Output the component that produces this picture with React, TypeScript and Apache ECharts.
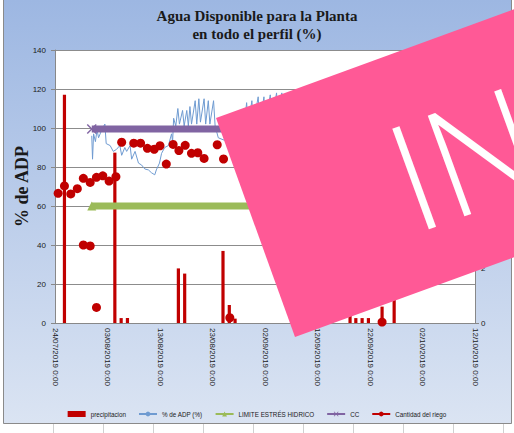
import React, { useEffect, useRef } from "react";
import * as echarts from "echarts";

const titleLines = ["Agua Disponible para la Planta", "en todo el perfil (%)"];
const yAxisName = "% de ADP";
const xTickLabels = [
  "24/07/2019 0:00",
  "03/08/2019 0:00",
  "13/08/2019 0:00",
  "23/08/2019 0:00",
  "02/09/2019 0:00",
  "12/09/2019 0:00",
  "22/09/2019 0:00",
  "02/10/2019 0:00",
  "12/10/2019 0:00",
];
const seriesNames = [
  "precipitacion",
  "% de ADP (%)",
  "LIMITE ESTRÉS HIDRICO",
  "CC",
  "Cantidad del riego",
];

// day offsets since 24/07/2019
const precipDays = [1.8, 11.4, 12.6, 13.8, 23.5, 24.7, 32.0, 33.2, 34.3, 56.2, 57.3, 58.5, 59.7, 62.3, 64.6];
const precipValues = [8.36, 6.24, 0.18, 0.18, 2.0, 1.81, 2.64, 0.66, 0.16, 0.29, 0.18, 0.18, 0.18, 0.6, 1.8];

const adpDays = [
  7.0, 7.15, 7.35, 7.7, 8.0, 8.3, 8.9, 9.5, 9.75, 10.5, 11.1, 11.7, 12.35, 12.7, 13.3, 13.65, 14.3, 14.6, 15.25,
  15.9, 16.5, 17.1, 17.8, 18.4, 19.0, 19.3, 19.9, 20.3, 20.9, 21.6, 22.2, 22.4,
  22.6, 23.0, 23.4, 23.7, 24.3, 24.6, 25.1, 25.4, 25.7, 26.0, 26.7, 27.0, 27.4, 27.7, 28.4, 28.7, 29.2, 29.5,
  30.2, 30.5, 31.1, 32.0, 33.0, 34.0, 35.0, 36.0, 36.5, 36.8, 37.5, 37.8, 38.7, 39.0, 39.8, 40.1, 41.0, 41.3,
  42.2, 42.5, 43.2, 43.5, 44.3, 44.6, 45.4, 45.7, 46.5, 46.8, 47.6, 48.0,
];
const adpValues = [
  96, 84, 97, 93, 99, 95, 99, 102, 92, 91, 88, 89, 91, 86, 90, 88, 91, 84, 88,
  82, 81, 79, 78.5, 77, 76, 78.5, 82, 87, 90, 91, 97, 93,
  105, 101, 110, 102, 109, 101, 109, 101, 111, 102, 114, 102, 115, 103, 115, 102, 114, 102,
  114, 101, 95, 94, 93, 95, 97, 100, 113, 101, 114, 102, 116, 102, 116, 102, 117, 103,
  118, 103, 118, 103, 117, 102, 117, 102, 116, 102, 116, 102,
];

const limiteDays = [7, 75];
const limiteValues = [60, 60];
const ccDays = [7, 75];
const ccValues = [99.5, 99.5];

const riegoDays = [
  0.6, 1.8, 3.0, 4.25, 5.4, 5.4, 6.7, 6.7, 7.9, 7.9, 9.1, 10.3, 11.6, 12.7, 15.0, 16.3, 17.6, 18.9, 20.0, 21.2,
  22.5, 23.6, 24.8, 26.0, 27.2, 28.4, 30.9, 32.1, 33.3, 62.3,
];
const riegoValues = [
  66.5, 70.3, 66.2, 68.9, 74.2, 40, 72.1, 39.5, 74.7, 8, 75.5, 72.8, 75, 92.7, 92.2, 92.2, 89.6, 89.1, 90.9, 81.5,
  91.6, 88.4, 91.1, 87, 87.3, 84.4, 91.4, 84.1, 2.7, 0.5,
];

const pair = (xs: number[], ys: number[]) => xs.map((x, i) => [x, ys[i]]);

const red = "#C00000";
const axisGray = "#888888";
const labelFont = "Liberation Sans";
const xSymbol = "path://M0,1L1,0L5,4L9,0L10,1L6,5L10,9L9,10L5,6L1,10L0,9L4,5Z";

export default function App() {
  const ref = useRef<HTMLDivElement>(null);
  useEffect(() => {
    const chart = echarts.init(ref.current!, undefined, { renderer: "svg" });
    const bottomLines = [];
    for (let k = 0; k < 10; k++) {
      bottomLines.push({
        type: "line",
        shape: { x1: 53.5 + 50 * k, y1: 424, x2: 53.5 + 50 * k, y2: 433 },
        style: { stroke: "#d0d0d0", lineWidth: 1 },
        z: 50,
      });
    }
    chart.setOption({
      animation: false,
      backgroundColor: {
        type: "linear",
        x: 0,
        y: 0,
        x2: 0,
        y2: 1,
        colorStops: [
          { offset: 0, color: "#9DB7E2" },
          { offset: 1, color: "#DCE5F3" },
        ],
      },
      title: {
        text: titleLines.join("\n"),
        left: "center",
        top: 2,
        textStyle: {
          fontFamily: "Liberation Serif",
          fontWeight: "bold",
          fontSize: 15,
          lineHeight: 18,
          color: "#1a1a1a",
        },
      },
      grid: { left: 55, right: 39, top: 50, bottom: 110, show: true, backgroundColor: "#ffffff", borderWidth: 0 },
      legend: {
        left: "center",
        top: 406,
        itemWidth: 18,
        itemHeight: 6,
        itemGap: 12,
        textStyle: { fontSize: 6.3, color: "#1a1a1a", fontFamily: labelFont },
        data: [
          { name: seriesNames[0], icon: "rect", itemStyle: { color: red } },
          { name: seriesNames[1] },
          { name: seriesNames[2] },
          { name: seriesNames[3] },
          { name: seriesNames[4], lineStyle: { opacity: 1, width: 2, color: red } },
        ],
      },
      xAxis: {
        type: "value",
        min: 0,
        max: 80,
        interval: 10,
        axisLine: { lineStyle: { color: axisGray } },
        axisTick: { show: false },
        splitLine: { show: false },
        axisLabel: {
          rotate: -90,
          fontSize: 8,
          color: "#1a1a1a",
          fontFamily: labelFont,
          margin: 5,
          formatter: (v: number) => xTickLabels[Math.round(v / 10)] ?? "",
        },
      },
      yAxis: [
        {
          type: "value",
          min: 0,
          max: 140,
          interval: 20,
          name: yAxisName,
          nameLocation: "middle",
          nameGap: 24,
          nameMoveOverlap: false,
          nameRotate: 90,
          nameTextStyle: { fontFamily: "Liberation Serif", fontWeight: "bold", fontSize: 18, color: "#1a1a1a" },
          axisLine: { show: true, lineStyle: { color: axisGray } },
          axisTick: { show: true, length: 4, lineStyle: { color: axisGray } },
          axisLabel: { fontSize: 8, color: "#1a1a1a", margin: 9, fontFamily: labelFont },
          splitLine: { lineStyle: { color: "#8c8c8c" } },
        },
        {
          type: "value",
          min: 0,
          max: 10,
          interval: 2,
          position: "right",
          axisLine: { show: true, lineStyle: { color: axisGray } },
          axisTick: { show: true, length: 4, lineStyle: { color: axisGray } },
          axisLabel: { fontSize: 8, color: "#1a1a1a", margin: 6, fontFamily: labelFont },
          splitLine: { show: false },
        },
      ],
      series: [
        {
          name: seriesNames[0],
          type: "custom",
          yAxisIndex: 1,
          itemStyle: { color: red },
          encode: { x: 0, y: 1 },
          renderItem: (params: any, api: any) => {
            const top = api.coord([api.value(0), api.value(1)]);
            const base = api.coord([api.value(0), 0]);
            return {
              type: "rect",
              shape: { x: top[0] - 1.6, y: top[1], width: 3.2, height: base[1] - top[1] },
              style: { fill: red },
            };
          },
          data: pair(precipDays, precipValues),
        },
        {
          name: seriesNames[1],
          type: "line",
          symbol: "none",
          lineStyle: { color: "#6F9BD1", width: 1 },
          itemStyle: { color: "#6F9BD1" },
          data: pair(adpDays, adpValues),
        },
        {
          name: seriesNames[2],
          type: "line",
          symbol: "triangle",
          symbolSize: 9,
          lineStyle: { color: "#9BBB59", width: 7 },
          itemStyle: { color: "#9BBB59" },
          data: pair(limiteDays, limiteValues),
        },
        {
          name: seriesNames[3],
          type: "line",
          symbol: xSymbol,
          symbolSize: 10,
          lineStyle: { color: "#8064A2", width: 7 },
          itemStyle: { color: "#8064A2" },
          data: pair(ccDays, ccValues),
        },
        {
          name: seriesNames[4],
          type: "line",
          symbol: "circle",
          symbolSize: 9,
          lineStyle: { color: red, width: 2, opacity: 0 },
          itemStyle: { color: red },
          data: pair(riegoDays, riegoValues),
        },
      ],
      graphic: [
        { type: "rect", shape: { x: 0, y: 424, width: 514, height: 9 }, style: { fill: "#ffffff" }, z: 49 },
        { type: "rect", shape: { x: 0, y: 0, width: 3, height: 433 }, style: { fill: "#ffffff" }, z: 49 },
        { type: "rect", shape: { x: 512, y: 0, width: 2, height: 433 }, style: { fill: "#ffffff" }, z: 49 },
        ...bottomLines,
        {
          type: "polyline",
          shape: { points: [[3.5, 0], [3.5, 423.5], [511.5, 423.5], [511.5, 0]] },
          style: { stroke: "#8a8a8a", lineWidth: 1, fill: null },
          z: 51,
        },
        {
          type: "polygon",
          shape: { points: [[216, 118], [600, -22], [680, 197], [295, 337]] },
          style: { fill: "#FF5996" },
          z: 100,
        },
        {
          type: "text",
          x: 395,
          y: 180,
          rotation: (20 * Math.PI) / 180,
          style: {
            text: "IN",
            fill: "#ffffff",
            fontSize: 150,
            fontFamily: "Open Sans",
            fontWeight: 300,
            align: "left",
            verticalAlign: "middle",
          },
          z: 101,
        },
      ],
    });
    return () => chart.dispose();
  }, []);
  return <div ref={ref} style={{ position: "fixed", left: 0, top: 0, width: 514, height: 433 }} />;
}
